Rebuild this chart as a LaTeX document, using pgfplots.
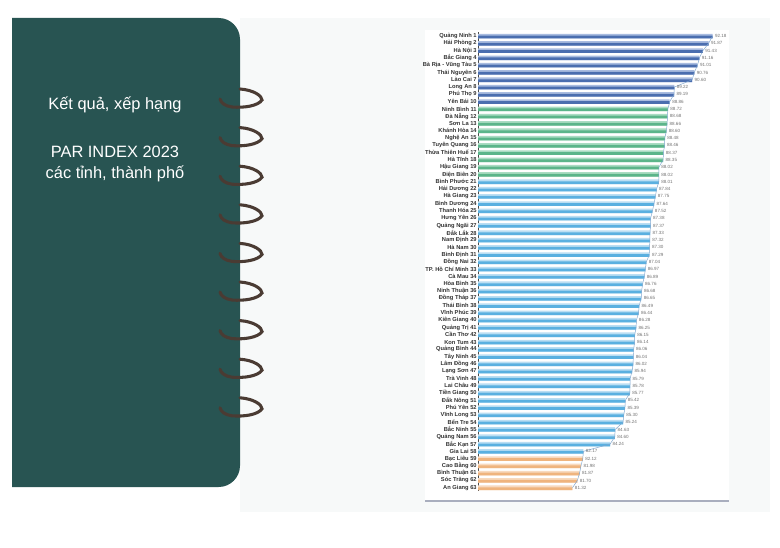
\documentclass[border=0pt]{standalone}
\usepackage{pgfplots}
\pgfplotsset{compat=1.18}
\usepackage{pgfplotstable}
\usepackage{fontspec}
\setmainfont{Liberation Sans}

\definecolor{panel}{HTML}{285452}
\definecolor{spiral}{HTML}{4A3B33}
\definecolor{bggray}{HTML}{F7F9F9}
\definecolor{bline}{HTML}{A9AEBE}
\definecolor{dbD}{HTML}{4B6EAF}
\definecolor{dbL}{HTML}{A9BCE0}
\definecolor{grD}{HTML}{5BB58A}
\definecolor{grL}{HTML}{AADCC3}
\definecolor{lbD}{HTML}{5AB0E0}
\definecolor{lbL}{HTML}{BADEF3}
\definecolor{orD}{HTML}{EFB47E}
\definecolor{orL}{HTML}{F8DABF}
\definecolor{lnC}{HTML}{7FA6CF}

\pgfplotstableread{
r v
1 92.18
2 91.87
3 91.43
4 91.16
5 91.01
6 90.76
7 90.60
8 89.22
9 89.19
10 88.86
}\gA
\pgfplotstableread{
r v
11 88.72
12 88.68
13 88.66
14 88.60
15 88.48
16 88.46
17 88.37
18 88.35
19 88.02
20 88.02
}\gB
\pgfplotstableread{
r v
21 88.01
22 87.84
23 87.75
24 87.64
25 87.52
26 87.38
27 87.37
28 87.33
29 87.32
30 87.30
31 87.29
32 87.04
33 86.97
34 86.89
35 86.76
36 86.68
37 86.65
38 86.49
39 86.44
40 86.28
41 86.25
42 86.15
43 86.14
44 86.06
45 86.04
46 86.02
47 85.94
48 85.79
49 85.78
50 85.77
51 85.42
52 85.39
53 85.30
54 85.24
55 84.63
56 84.60
57 84.24
58 82.17
}\gC
\pgfplotstableread{
r v
59 82.12
60 81.98
61 81.87
62 81.70
63 81.32
}\gD
\pgfplotstableread{
r v
1 92.18
2 91.87
3 91.43
4 91.16
5 91.01
6 90.76
7 90.60
8 89.22
9 89.19
10 88.86
11 88.72
12 88.68
13 88.66
14 88.60
15 88.48
16 88.46
17 88.37
18 88.35
19 88.02
20 88.02
21 88.01
22 87.84
23 87.75
24 87.64
25 87.52
26 87.38
27 87.37
28 87.33
29 87.32
30 87.30
31 87.29
32 87.04
33 86.97
34 86.89
35 86.76
36 86.68
37 86.65
38 86.49
39 86.44
40 86.28
41 86.25
42 86.15
43 86.14
44 86.06
45 86.04
46 86.02
47 85.94
48 85.79
49 85.78
50 85.77
51 85.42
52 85.39
53 85.30
54 85.24
55 84.63
56 84.60
57 84.24
58 82.17
59 82.12
60 81.98
61 81.87
62 81.70
63 81.32
}\gAll

\pgfplotsset{
  lightbar/.style={xbar, bar width=3.39pt, bar shift=0pt, draw=none, fill=#1,
    nodes near coords={\pgfmathprintnumber[fixed,fixed zerofill,precision=2,assume math mode=true]{\pgfplotspointmeta}},
    every node near coord/.append style={font=\fontsize{3.4}{4}\selectfont, text=black!55, anchor=west, xshift=1.2pt, inner sep=0.5pt}},
  darkbar/.style={xbar, bar width=2.08pt, bar shift=-0.66pt, draw=none, fill=#1},
}

\begin{document}
\begin{tikzpicture}
\begin{scope}[x=0.75pt,y=-0.75pt]
\path[use as bounding box, fill=white] (0,0) rectangle (780,548);
\fill[bggray] (240,18) rectangle (770,512);
\fill[white] (425,30) rectangle (729,502);
\draw[bline, line width=1.4] (425,501) -- (729,501);
\fill[panel] (12,18) {[rounded corners=16pt] -- (240,18) -- (240,487)} -- (12,487) -- cycle;
\foreach \k in {0,...,8}{
  \pgfmathsetmacro{\c}{100+38.6*\k}
  \draw[spiral, line width=2.3, line cap=round]
    (240,\c-11) .. controls (254,\c-10) and (262,\c-4) .. (262,\c)
    .. controls (258,\c+6) and (244,\c+8) .. (232,\c+7)
    .. controls (225,\c+6) and (221,\c+3) .. (220,\c-1);
}
\node[text=white, font=\fontsize{12.3}{14}\selectfont] at (115,105) {Kết quả, xếp hạng};
\node[text=white, font=\fontsize{12.3}{14}\selectfont] at (115,152) {PAR INDEX 2023};
\node[text=white, font=\fontsize{12.3}{14}\selectfont] at (115,174) {các tỉnh, thành phố};
\end{scope}
\begin{axis}[
  at={(358.5pt,-24.3pt)}, anchor=north west,
  scale only axis, width=188.7pt, height=344.25pt,
  xmin=74, xmax=93.5, ymin=0.5, ymax=63.5, y dir=reverse,
  axis x line=none, axis y line*=left,
  y axis line style={black!70, line width=0.4pt},
  ytick={1,...,63},
  major tick length=1.2pt,
  tick style={black!70, line width=0.3pt},
  yticklabel style={font=\fontsize{4.3}{5}\selectfont\bfseries, text=black!80, inner sep=0.8pt},
  yticklabels={Quảng Ninh 1,Hải Phòng 2,Hà Nội 3,Bắc Giang 4,Bà Rịa - Vũng Tàu 5,Thái Nguyên 6,Lào Cai 7,Long An 8,Phú Thọ 9,Yên Bái 10,Ninh Bình 11,Đà Nẵng 12,Sơn La 13,Khánh Hòa 14,Nghệ An 15,Tuyên Quang 16,Thừa Thiên Huế 17,Hà Tĩnh 18,Hậu Giang 19,Điện Biên 20,Bình Phước 21,Hải Dương 22,Hà Giang 23,Bình Dương 24,Thanh Hóa 25,Hưng Yên 26,Quảng Ngãi 27,Đắk Lắk 28,Nam Định 29,Hà Nam 30,Bình Định 31,Đồng Nai 32,TP. Hồ Chí Minh 33,Cà Mau 34,Hòa Bình 35,Ninh Thuận 36,Đồng Tháp 37,Thái Bình 38,Vĩnh Phúc 39,Kiên Giang 40,Quảng Trị 41,Cần Thơ 42,Kon Tum 43,Quảng Bình 44,Tây Ninh 45,Lâm Đồng 46,Lạng Sơn 47,Trà Vinh 48,Lai Châu 49,Tiền Giang 50,Đắk Nông 51,Phú Yên 52,Vĩnh Long 53,Bến Tre 54,Bắc Ninh 55,Quảng Nam 56,Bắc Kạn 57,Gia Lai 58,Bạc Liêu 59,Cao Bằng 60,Bình Thuận 61,Sóc Trăng 62,An Giang 63},
]
\addplot[lightbar=dbL] table[x=v,y=r] {\gA};
\addplot[darkbar=dbD] table[x=v,y=r] {\gA};
\addplot[lightbar=grL] table[x=v,y=r] {\gB};
\addplot[darkbar=grD] table[x=v,y=r] {\gB};
\addplot[lightbar=lbL] table[x=v,y=r] {\gC};
\addplot[darkbar=lbD] table[x=v,y=r] {\gC};
\addplot[lightbar=orL] table[x=v,y=r] {\gD};
\addplot[darkbar=orD] table[x=v,y=r] {\gD};
\addplot[sharp plot, lnC, line width=0.35pt, mark=none] table[x=v,y=r] {\gAll};
\end{axis}
\end{tikzpicture}
\end{document}
